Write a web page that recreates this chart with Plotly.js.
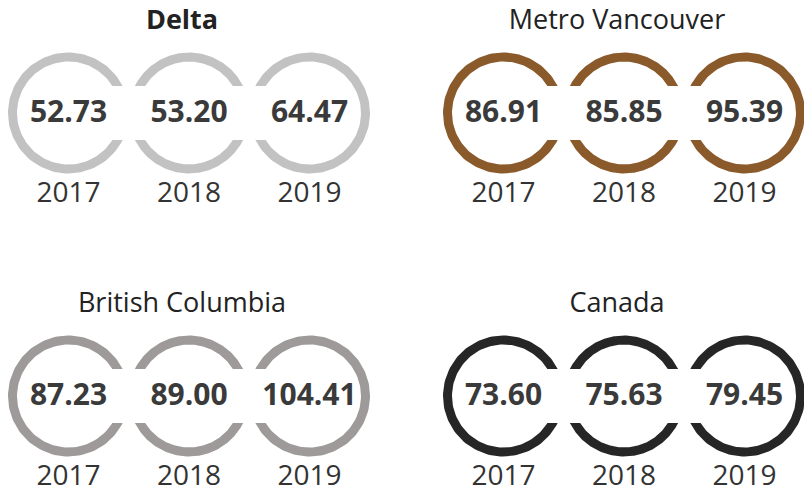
<!DOCTYPE html>
<html>
<head>
<meta charset="utf-8">
<script src="https://cdn.plot.ly/plotly-3.0.1.min.js"></script>
<style>html,body{margin:0;padding:0;background:#fff;}#chart{width:804px;height:492px;}</style>
</head>
<body>
<div id="chart"></div>
<script>
// ---- data ----
const regions = ['Delta', 'Metro Vancouver', 'British Columbia', 'Canada'];
const years = ['2017', '2018', '2019'];
const deltaValues = [52.73, 53.20, 64.47];
const metroValues = [86.91, 85.85, 95.39];
const bcValues = [87.23, 89.00, 104.41];
const canadaValues = [73.60, 75.63, 79.45];
const ringColors = ['#c2c2c2', '#8b5a2b', '#9d9a99', '#262626'];
const titleBold = [true, false, false, false];

// ---- layout constants ----
const W = 804, H = 492;
const colX = [68.5, 503.5];   // centre of first ring per column
const rowY = [113, 396];      // ring centre per row
const spacing = 120.5;
const rOut = 60.5, rIn = 51.5;
const gapHalf = 27;
const series = [deltaValues, metroValues, bcValues, canadaValues];

function arc(cx, cy, r, a0, a1, n) {
  const xs = [], ys = [];
  for (let i = 0; i <= n; i++) {
    const a = a0 + (a1 - a0) * i / n;
    xs.push(cx + r * Math.cos(a));
    ys.push(cy - r * Math.sin(a));
  }
  return [xs, ys];
}
function piece(cx, cy, a0o, a1o, a0i, a1i, color) {
  const o = arc(cx, cy, rOut, a0o, a1o, 120);
  const i = arc(cx, cy, rIn, a1i, a0i, 120);
  return {
    type: 'scatter', mode: 'lines', x: o[0].concat(i[0]), y: o[1].concat(i[1]),
    fill: 'toself', fillcolor: color, line: {width: 0, color: color},
    hoverinfo: 'skip', showlegend: false
  };
}

const traces = [];
const PI = Math.PI;
const to = Math.asin(gapHalf / rOut), ti = Math.asin(gapHalf / rIn);
regions.forEach((name, g) => {
  const cx0 = colX[g % 2], cy = rowY[Math.floor(g / 2)];
  const color = ringColors[g];
  years.forEach((yr, k) => {
    const cx = cx0 + k * spacing;
    if (k === 0) {
      traces.push(piece(cx, cy, to, 2 * PI - to, ti, 2 * PI - ti, color));
    } else if (k === years.length - 1) {
      traces.push(piece(cx, cy, PI + to, 3 * PI - to, PI + ti, 3 * PI - ti, color));
    } else {
      traces.push(piece(cx, cy, to, PI - to, ti, PI - ti, color));
      traces.push(piece(cx, cy, PI + to, 2 * PI - to, PI + ti, 2 * PI - ti, color));
    }
  });
  const xs = years.map((_, k) => cx0 + k * spacing);
  traces.push({
    type: 'scatter', mode: 'text', x: xs, y: years.map(() => cy + 1),
    text: series[g].map(v => v.toFixed(2)), textposition: 'middle center',
    textfont: {family: 'Open Sans', size: 30, weight: 700, color: '#3a3a3a'},
    hoverinfo: 'skip', showlegend: false
  });
  traces.push({
    type: 'scatter', mode: 'text', x: xs, y: years.map(() => cy + 82),
    text: years, textposition: 'middle center',
    textfont: {family: 'Open Sans', size: 28, color: '#333333'},
    hoverinfo: 'skip', showlegend: false
  });
  traces.push({
    type: 'scatter', mode: 'text', x: [cx0 + spacing - 7], y: [cy - 91],
    text: [name], textposition: 'middle center',
    textfont: {family: 'Open Sans', size: 27, weight: titleBold[g] ? 700 : 400, color: '#222222'},
    hoverinfo: 'skip', showlegend: false
  });
});

const layout = {
  width: W, height: H,
  margin: {l: 0, r: 0, t: 0, b: 0},
  paper_bgcolor: '#ffffff', plot_bgcolor: '#ffffff',
  xaxis: {range: [0, W], visible: false, fixedrange: true},
  yaxis: {range: [H, 0], visible: false, fixedrange: true},
  showlegend: false
};
Plotly.newPlot('chart', traces, layout, {displayModeBar: false, staticPlot: true});
</script>
</body>
</html>
